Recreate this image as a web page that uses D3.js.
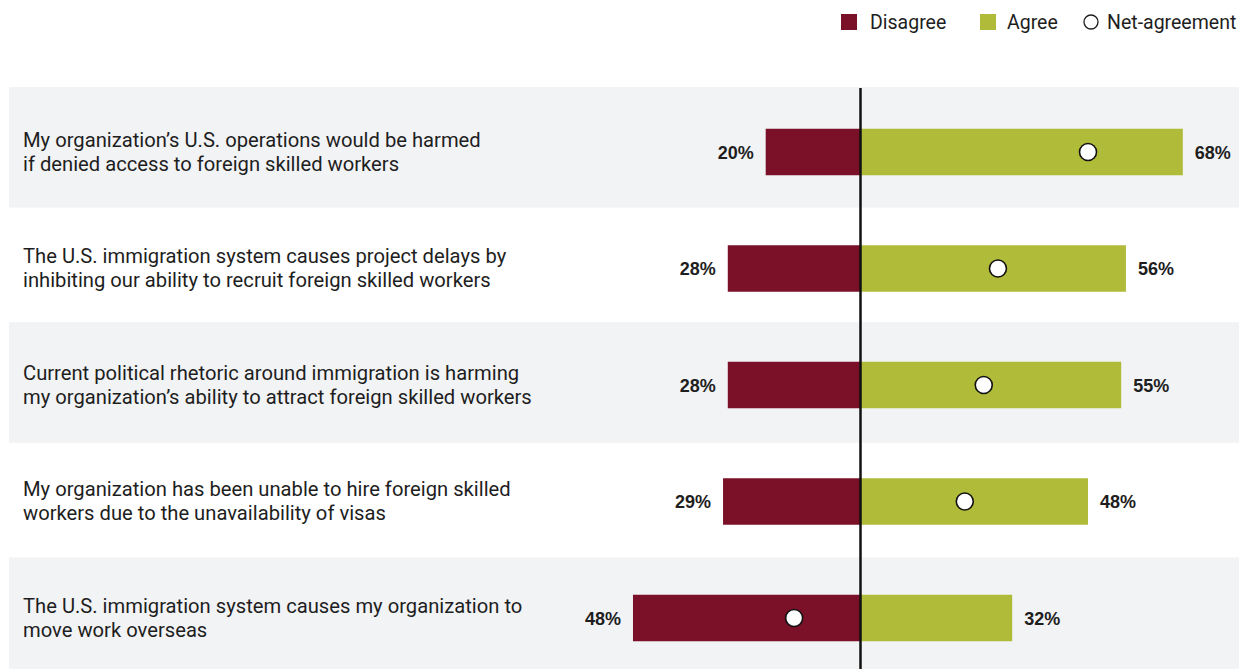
<!DOCTYPE html>
<html>
<head>
<meta charset="utf-8">
<script src="https://cdn.jsdelivr.net/npm/d3@7"></script>
<style>
  html, body { margin: 0; padding: 0; background: #ffffff; }
  svg { display: block; }
</style>
</head>
<body>
<div id="chart"></div>
<script>
// Survey statements (two lines each), with shares that disagree / agree
const statements = [
  ["My organization\u2019s U.S. operations would be harmed", "if denied access to foreign skilled workers"],
  ["The U.S. immigration system causes project delays by", "inhibiting our ability to recruit foreign skilled workers"],
  ["Current political rhetoric around immigration is harming", "my organization\u2019s ability to attract foreign skilled workers"],
  ["My organization has been unable to hire foreign skilled", "workers due to the unavailability of visas"],
  ["The U.S. immigration system causes my organization to", "move work overseas"]
];
const disagree = [20, 28, 28, 29, 48];
const agree = [68, 56, 55, 48, 32];
const netAgreement = [48, 29, 26, 22, -14];

const legendItems = ["Disagree", "Agree", "Net-agreement"];

const W = 1243, H = 669;
const colDisagree = "#7a1129";
const colAgree = "#b1bb3a";
const rowFill = "#f2f3f5";
const ink = "#1e1e1e";

const svg = d3.select("#chart").append("svg")
  .attr("width", W).attr("height", H);

const idx = d3.range(statements.length);

// value axis: zero at the divider, disagree to the left, agree to the right
const x = d3.scaleLinear().domain([-50, 70]).range([623.5, 1192.3]);

// row bands (background stripes) and bar centres
const rowBand = d3.scaleBand().domain(idx).range([87, 675]);
const yMid = d3.scalePoint().domain(idx).range([152, 618]);
const barH = 46.5;

// alternating grey stripes
svg.append("g").selectAll("rect")
  .data(idx.filter(i => i % 2 === 0))
  .join("rect")
  .attr("x", 9)
  .attr("y", i => rowBand(i))
  .attr("width", 1230)
  .attr("height", i => Math.min(rowBand.bandwidth() + 3, H - rowBand(i)))
  .attr("fill", rowFill);

// statement text
const labels = svg.append("g")
  .attr("font-family", "Roboto, 'Liberation Sans', sans-serif")
  .attr("font-size", 20.2)
  .attr("fill", ink);
labels.selectAll("text")
  .data(idx)
  .join("text")
  .attr("x", 23)
  .attr("y", i => yMid(i) - 5.5)
  .each(function (i) {
    const t = d3.select(this);
    statements[i].forEach((line, k) => {
      t.append("tspan")
        .attr("x", 23)
        .attr("dy", k === 0 ? 0 : 24)
        .text(line);
    });
  });

// disagree bars (left of zero)
svg.append("g").selectAll("rect")
  .data(idx)
  .join("rect")
  .attr("x", i => x(-disagree[i]))
  .attr("y", i => yMid(i) - barH / 2)
  .attr("width", i => x(0) - x(-disagree[i]))
  .attr("height", barH)
  .attr("fill", colDisagree);

// agree bars (right of zero)
svg.append("g").selectAll("rect")
  .data(idx)
  .join("rect")
  .attr("x", x(0))
  .attr("y", i => yMid(i) - barH / 2)
  .attr("width", i => x(agree[i]) - x(0))
  .attr("height", barH)
  .attr("fill", colAgree);

// value labels
const valFont = "'Liberation Sans', Arial, sans-serif";
svg.append("g").selectAll("text")
  .data(idx)
  .join("text")
  .attr("x", i => x(-disagree[i]) - 12)
  .attr("y", i => yMid(i) + 6.5)
  .attr("text-anchor", "end")
  .attr("font-family", valFont)
  .attr("font-weight", "bold")
  .attr("font-size", 18)
  .attr("fill", ink)
  .text(i => disagree[i] + "%");

svg.append("g").selectAll("text")
  .data(idx)
  .join("text")
  .attr("x", i => x(agree[i]) + 12)
  .attr("y", i => yMid(i) + 6.5)
  .attr("text-anchor", "start")
  .attr("font-family", valFont)
  .attr("font-weight", "bold")
  .attr("font-size", 18)
  .attr("fill", ink)
  .text(i => agree[i] + "%");

// zero divider
svg.append("line")
  .attr("x1", x(0)).attr("x2", x(0))
  .attr("y1", 88).attr("y2", H)
  .attr("stroke", "#111")
  .attr("stroke-width", 2.5);

// net-agreement markers
svg.append("g").selectAll("circle")
  .data(idx)
  .join("circle")
  .attr("cx", i => x(netAgreement[i]))
  .attr("cy", i => yMid(i))
  .attr("r", 8.5)
  .attr("fill", "#ffffff")
  .attr("stroke", "#111")
  .attr("stroke-width", 1.6);

// legend
const legend = svg.append("g")
  .attr("font-family", "Roboto, 'Liberation Sans', sans-serif")
  .attr("font-size", 19.5)
  .attr("fill", ink);

legend.append("rect").attr("x", 841).attr("y", 14).attr("width", 16).attr("height", 16).attr("fill", colDisagree);
legend.append("text").attr("x", 870).attr("y", 29).text(legendItems[0]);
legend.append("rect").attr("x", 980).attr("y", 14).attr("width", 16).attr("height", 16).attr("fill", colAgree);
legend.append("text").attr("x", 1007).attr("y", 29).text(legendItems[1]);
legend.append("circle").attr("cx", 1091).attr("cy", 22).attr("r", 7)
  .attr("fill", "#fff").attr("stroke", ink).attr("stroke-width", 1.3);
legend.append("text").attr("x", 1107).attr("y", 29).text(legendItems[2]);
</script>
</body>
</html>
